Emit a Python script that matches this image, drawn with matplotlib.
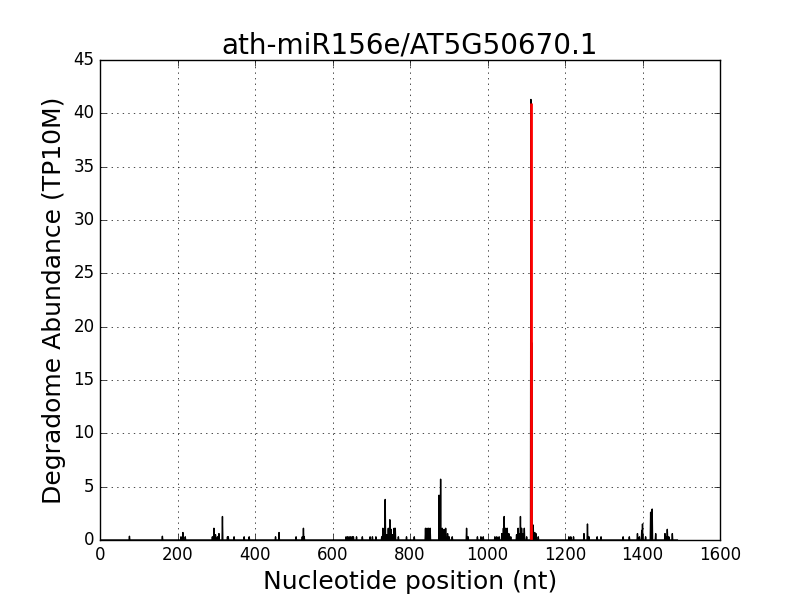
import numpy as np
import matplotlib
matplotlib.use("Agg")
import matplotlib.pyplot as plt

plt.style.use("classic")

title = "ath-miR156e/AT5G50670.1"
transcript_length = 1490
cleavage_site = 1112
cleavage_abundance = 41.0

positions = [76, 161, 209, 214, 220, 290, 294, 298, 303, 307, 316, 329, 331, 346, 372, 385,
             453, 462, 506, 522, 525, 527, 635, 639, 643, 647, 651, 654, 662, 677, 697, 703, 712,
             727, 730, 736, 740, 744, 748, 751, 755, 759, 762, 770, 791, 811,
             840, 844, 848, 852, 875, 879, 883, 888, 892, 897, 901, 909, 946, 950, 974, 983, 989,
             1019, 1024, 1030, 1037, 1041, 1043, 1047, 1051, 1055, 1060, 1075, 1079, 1082, 1085,
             1088, 1092, 1095, 1101, 1112, 1114, 1115, 1118, 1122, 1125, 1131, 1210, 1215, 1222,
             1249, 1258, 1262, 1283, 1293, 1350, 1366, 1387, 1392, 1398, 1400, 1408, 1421, 1425,
             1434, 1458, 1461, 1464, 1468, 1477]
abundance = [0.35, 0.35, 0.3, 0.7, 0.3, 0.3, 1.1, 0.5, 0.3, 0.6, 2.2, 0.3, 0.3, 0.3, 0.3, 0.3,
             0.3, 0.7, 0.3, 0.3, 1.1, 0.3, 0.3, 0.3, 0.3, 0.3, 0.3, 0.3, 0.3, 0.3, 0.3, 0.3, 0.3,
             0.3, 1.1, 3.8, 0.5, 1.1, 1.9, 1.0, 0.5, 1.1, 1.1, 0.3, 0.3, 0.3,
             1.1, 1.1, 1.1, 1.1, 4.2, 5.7, 1.1, 1.0, 1.1, 0.6, 0.3, 0.3, 1.1, 0.3, 0.3, 0.3, 0.3,
             0.3, 0.3, 0.3, 0.6, 1.1, 2.2, 1.1, 1.1, 0.6, 0.3, 0.5, 1.1, 0.6, 2.2,
             1.1, 0.6, 1.1, 0.3, 41.3, 18.5, 1.0, 1.4, 0.7, 0.6, 0.3, 0.3, 0.3, 0.3,
             0.6, 1.5, 0.3, 0.3, 0.3, 0.3, 0.3, 0.6, 0.3, 0.9, 1.5, 0.3, 2.6, 2.9,
             0.6, 0.6, 0.3, 1.0, 0.3, 0.6]

x = np.arange(1, transcript_length + 1)
y = np.zeros(transcript_length)
for p, v in zip(positions, abundance):
    y[p - 1] = v

fig = plt.figure(figsize=(8, 6), dpi=100, facecolor="white")
ax = fig.add_axes([0.125, 0.1, 0.775, 0.8])
ax.plot(x, y, color="black", lw=1)
ax.vlines([cleavage_site], 0, [cleavage_abundance], color="red", lw=2)
ax.set_xlim(0, 1600)
ax.set_ylim(0, 45)
ax.set_xticks(np.arange(0, 1601, 200))
ax.set_yticks(np.arange(0, 46, 5))
ax.grid(True, color="black", linestyle=":", lw=0.5)
ax.set_title(title, fontsize=20)
ax.set_xlabel("Nucleotide position (nt)", fontsize=18)
ax.set_ylabel("Degradome Abundance (TP10M)", fontsize=18)
ax.tick_params(labelsize=12)
fig.savefig("out.png", dpi=100, facecolor="white")
